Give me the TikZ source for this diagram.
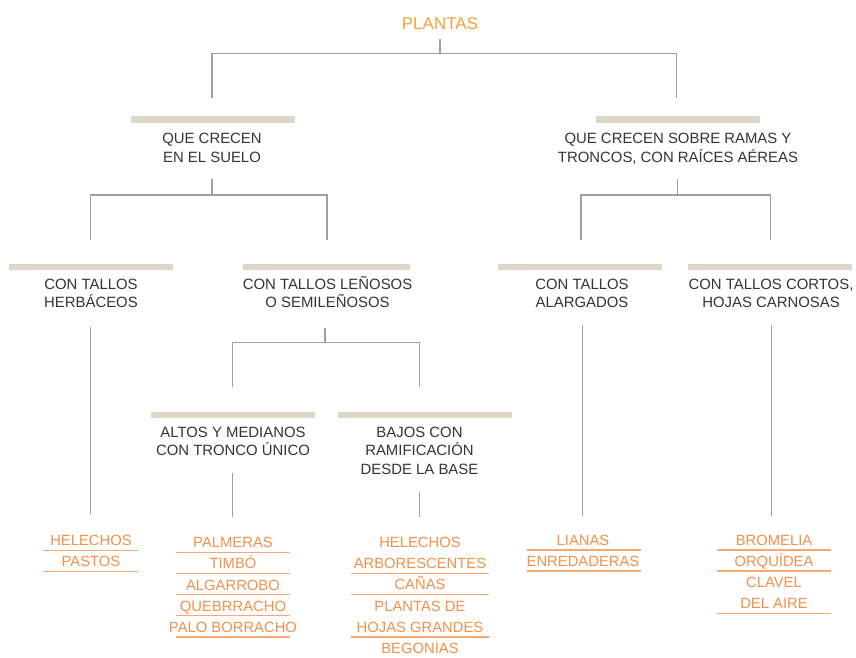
\documentclass[tikz,border=0pt]{standalone}
\usepackage{fontspec}
\setmainfont{Liberation Sans}
\definecolor{txt}{HTML}{353535}
\definecolor{orl}{HTML}{F4914A}
\definecolor{oru}{HTML}{F6A872}
\definecolor{ortitle}{HTML}{F8A23A}
\definecolor{barc}{HTML}{DED6C6}
\definecolor{linec}{HTML}{A0A0A0}
\begin{document}
\begin{tikzpicture}[x=1pt,y=-1pt,
  lbl/.style={anchor=base,inner sep=0pt,text=txt,font=\fontsize{14.9}{18}\selectfont},
  item/.style={anchor=base,inner sep=0pt,text=orl,font=\fontsize{14.8}{18}\selectfont},
  ttl/.style={anchor=base,inner sep=0pt,text=ortitle,font=\fontsize{17}{20}\selectfont},
  barbox/.style={fill=barc,draw=none},
  conn/.style={draw=linec,line width=1.5pt},
  uline/.style={draw=oru,line width=1.3pt}]
\useasboundingbox (0,0) rectangle (856,657);
\fill[white] (0,0) rectangle (856,657);

% ---- title
\node[ttl] (plantas) at (440,29.3) {PLANTAS};

% ---- bars
\path[barbox] (131,116) rectangle (295,122.5);
\path[barbox] (596,116) rectangle (760,122.5);
\path[barbox] (9,263.5) rectangle (173,270);
\path[barbox] (243,263.5) rectangle (410,270);
\path[barbox] (498,263.5) rectangle (662,270);
\path[barbox] (688,263.5) rectangle (852,270);
\path[barbox] (151,411.5) rectangle (315,418);
\path[barbox] (338,411.5) rectangle (512,418);

% ---- level 1
\node[lbl] (suelo1) at (212,143.3) {QUE CRECEN};
\node[lbl] (suelo2) at (212,162.3) {EN EL SUELO};
\node[lbl] (ramas1) at (678,143.3) {QUE CRECEN SOBRE RAMAS Y};
\node[lbl] (ramas2) at (678,162.3) {TRONCOS, CON RAÍCES AÉREAS};

% ---- level 2
\node[lbl] (herb1) at (91,289) {CON TALLOS};
\node[lbl] (herb2) at (91,307.3) {HERBÁCEOS};
\node[lbl] (len1) at (327.5,289) {CON TALLOS LEÑOSOS};
\node[lbl] (len2) at (327.5,307.3) {O SEMILEÑOSOS};
\node[lbl] (alar1) at (582,289) {CON TALLOS};
\node[lbl] (alar2) at (582,307.3) {ALARGADOS};
\node[lbl] (cort1) at (771,289) {CON TALLOS CORTOS,};
\node[lbl] (cort2) at (771,307.3) {HOJAS CARNOSAS};

% ---- level 3
\node[lbl] (alto1) at (233,437.5) {ALTOS Y MEDIANOS};
\node[lbl] (alto2) at (233,455.7) {CON TRONCO ÚNICO};
\node[lbl] (bajo1) at (419.5,437.5) {BAJOS CON};
\node[lbl] (bajo2) at (419.5,455.7) {RAMIFICACIÓN};
\node[lbl] (bajo3) at (419.5,474) {DESDE LA BASE};

% ---- connector coordinates
\coordinate (P-out) at (440,39.3);
\coordinate (P-j) at (440,53.3);
\coordinate (S-in) at (212,98.3);
\coordinate (R-in) at (676.5,98.3);
\coordinate (S-out) at (212,179.3);
\coordinate (S-j) at (212,195);
\coordinate (H-in) at (90.7,239.5);
\coordinate (L-in) at (327,239.5);
\coordinate (R-out) at (677.3,179.3);
\coordinate (R-j) at (677.3,195);
\coordinate (A-in) at (581,239.5);
\coordinate (C-in) at (770.7,239.5);
\coordinate (H-out) at (90.7,326.5);
\coordinate (H-end) at (90.7,514);
\coordinate (L-out) at (325,327.5);
\coordinate (L-j) at (325,342.7);
\coordinate (T-in) at (232.3,387.3);
\coordinate (B-in) at (419.3,387.3);
\coordinate (A-out) at (582.3,325);
\coordinate (A-end) at (582.3,515.7);
\coordinate (C-out) at (771.3,325);
\coordinate (C-end) at (771.3,515.7);
\coordinate (T-out) at (232.3,472.7);
\coordinate (T-end) at (232.3,517.3);
\coordinate (B-out) at (419.3,491.7);
\coordinate (B-end) at (419.3,517.3);

\draw[conn] (P-out) -- (P-j);
\draw[conn] (S-in) -- (S-in |- P-j) -- (R-in |- P-j) -- (R-in);
\draw[conn] (S-out) -- (S-j);
\draw[conn] (H-in) -- (H-in |- S-j) -- (L-in |- S-j) -- (L-in);
\draw[conn] (R-out) -- (R-j);
\draw[conn] (A-in) -- (A-in |- R-j) -- (C-in |- R-j) -- (C-in);
\draw[conn] (H-out) -- (H-end);
\draw[conn] (L-out) -- (L-j);
\draw[conn] (T-in) -- (T-in |- L-j) -- (B-in |- L-j) -- (B-in);
\draw[conn] (A-out) -- (A-end);
\draw[conn] (C-out) -- (C-end);
\draw[conn] (T-out) -- (T-end);
\draw[conn] (B-out) -- (B-end);

% ---- lists
% herbaceos
\node[item] (h1) at (91,545.7) {HELECHOS};
\node[item] (h2) at (91,566.7) {PASTOS};
\draw[uline] (43.3,550.3) -- (138.3,550.3);
\draw[uline] (43.3,571.3) -- (138.3,571.3);
% altos
\node[item] (t1) at (233,547.7) {PALMERAS};
\node[item] (t2) at (233,568.9) {TIMBÓ};
\node[item] (t3) at (233,590.1) {ALGARROBO};
\node[item] (t4) at (233,611.3) {QUEBRRACHO};
\node[item] (t5) at (233,632.5) {PALO BORRACHO};
\draw[uline] (176,552.3) -- (290,552.3);
\draw[uline] (176,573.4) -- (290,573.4);
\draw[uline] (176,594.6) -- (290,594.6);
\draw[uline] (176,615.8) -- (290,615.8);
\draw[uline] (176,637) -- (290,637);
% bajos
\node[item] (b1) at (420,547.7) {HELECHOS};
\node[item] (b2) at (420,568.8) {ARBORESCENTES};
\node[item] (b3) at (420,589.9) {CAÑAS};
\node[item] (b4) at (420,611) {PLANTAS DE};
\node[item] (b5) at (420,632.1) {HOJAS GRANDES};
\node[item] (b6) at (420,653.2) {BEGONIAS};
\draw[uline] (350.7,573.3) -- (489.3,573.3);
\draw[uline] (350.7,594.4) -- (489.3,594.4);
\draw[uline] (350.7,636.9) -- (489.3,636.9);
% alargados
\node[item] (a1) at (583,545) {LIANAS};
\node[item] (a2) at (583,566) {ENREDADERAS};
\draw[uline] (526.7,550) -- (641,550);
\draw[uline] (526.7,571) -- (641,571);
% cortos
\node[item] (c1) at (774,545) {BROMELIA};
\node[item] (c2) at (774,566.2) {ORQUÍDEA};
\node[item] (c3) at (774,587.6) {CLAVEL};
\node[item] (c4) at (774,608.8) {DEL AIRE};
\draw[uline] (717.3,550) -- (830.7,550);
\draw[uline] (717.3,571) -- (830.7,571);
\draw[uline] (717.3,613.3) -- (830.7,613.3);
\end{tikzpicture}
\end{document}
